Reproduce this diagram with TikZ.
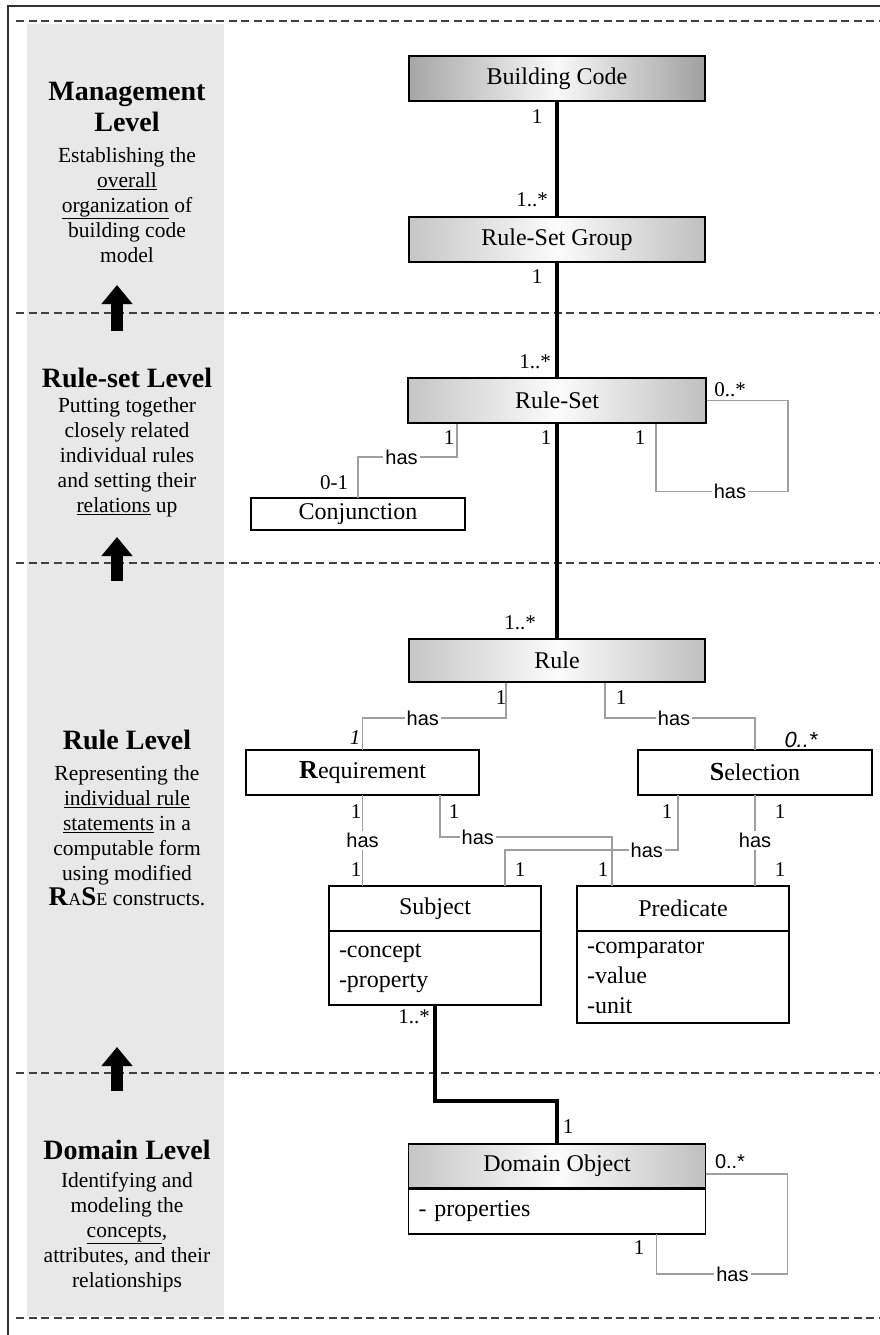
\documentclass[tikz,border=0pt]{standalone}
\usepackage{fontspec}
\setmainfont{Liberation Serif}
\setsansfont{Liberation Sans}
\usetikzlibrary{arrows.meta,positioning,calc}

\newcommand{\rasetext}{\textbf{\fontsize{27}{27}\selectfont R}{\fontsize{18}{18}\selectfont A}\textbf{\fontsize{27}{27}\selectfont S}{\fontsize{18}{18}\selectfont E}}

\begin{document}
\begin{tikzpicture}[x=1pt,y=-1pt,
  hdr/.style={draw,line width=1.8pt,minimum width=296pt,minimum height=45pt,inner sep=0pt,
              left color=gray!45,right color=gray!50,middle color=gray!3,
              font=\fontsize{24}{28}\selectfont},
  dhdr/.style={hdr,left color=gray!70,right color=gray!75,middle color=gray!5},
  cls/.style={draw,line width=1.8pt,fill=white,minimum height=45pt,inner sep=0pt,outer sep=0pt,
              font=\fontsize{24}{28}\selectfont},
  attr/.style={draw,line width=1.8pt,fill=white,inner xsep=10pt,inner ysep=0pt,outer sep=0pt,
               font=\fontsize{24}{30}\selectfont,align=left},
  mult/.style={font=\fontsize{21}{21}\selectfont,inner sep=1pt},
  has/.style={font=\sffamily\fontsize{20}{20}\selectfont,fill=white,inner sep=2pt},
  assoc/.style={line width=3.5pt},
  link/.style={line width=1.3pt,draw=gray!75},
  lvl/.style={font=\bfseries\fontsize{28}{31}\selectfont,align=center},
  desc/.style={font=\fontsize{21.5}{25}\selectfont,align=center},
  levelsep/.style={line width=2pt,draw=black!75,dash pattern=on 8pt off 4.5pt},
  uparr/.style={line width=12pt,-{Triangle[width=30pt,length=19pt]}}
]
\useasboundingbox (0,0) rectangle (879,1335);

% Frame and level band
\draw[line width=1.5pt,black!80] (8,1345) -- (8,6) -- (890,6);
\fill[gray!18] (27,24) rectangle (224,1316);

% Level separators
\draw[levelsep] (16,21) -- (879,21);
\draw[levelsep] (16,313) -- (879,313);
\draw[levelsep] (16,563) -- (879,563);
\draw[levelsep] (16,1073) -- (879,1073);
\draw[levelsep] (16,1318) -- (879,1318);

% Level arrows
\coordinate (a1s) at (117,331);
\coordinate (a1e) at (117,285);
\coordinate (a2s) at (117,581);
\coordinate (a2e) at (117,537);
\coordinate (a3s) at (117,1091);
\coordinate (a3e) at (117,1047);
\draw[uparr] (a1s) -- (a1e);
\draw[uparr] (a2s) -- (a2e);
\draw[uparr] (a3s) -- (a3e);

% Level texts
\node[lvl] (mgmt) at (127,107) {Management\\Level};
\node[desc] (mgmtd) at (127,205) {Establishing the\\\underline{overall}\\\underline{organization} of\\building code\\model};
\node[lvl] (rsl) at (127,378) {Rule-set Level};
\node[desc] (rsld) at (127,457) {Putting together\\closely related\\individual rules\\and setting their\\\underline{relations} up};
\node[lvl] (rl) at (127,740) {Rule Level};
\node[desc] (rld) at (127,836) {Representing the\\\underline{individual rule}\\\underline{statements} in a\\computable form\\using modified\\\rasetext{} constructs.};
\node[lvl] (dl) at (127,1150) {Domain Level};
\node[desc] (dld) at (127,1232) {Identifying and\\modeling the\\\underline{concepts},\\attributes, and their\\relationships};

% Classes
\node[dhdr] (bc) at (557,78.5) {Building Code};
\node[hdr] (rsg) at (557,239.5) {Rule-Set Group};
\node[hdr,minimum width=298pt] (rs) at (557,400.5) {Rule-Set};
\node[cls,minimum width=214pt,minimum height=32pt] (conj) at (358,514) {Conjunction};
\node[hdr,minimum height=43pt] (rule) at (557,660.5) {Rule};
\node[cls,minimum width=233pt] (req) at (362.5,772.5) {\textbf{\fontsize{26}{28}\selectfont R}equirement};
\node[cls,minimum width=234pt] (sel) at (755,772.5) {\textbf{\fontsize{26}{28}\selectfont S}election};
\node[cls,minimum width=212pt] (subj) at (435,908.5) {Subject};
\node[attr,text width=192pt,minimum height=74pt,below=0pt of subj] (subjb) {-concept\\-property};
\node[cls,minimum width=212pt] (pred) at (683,908.5) {Predicate};
\node[attr,text width=192pt,minimum height=92pt,below=0pt of pred] (predb) {-comparator\\-value\\-unit};
\node[hdr,minimum width=297pt,minimum height=44pt] (domh) at (557,1166) {Domain Object};
\node[attr,text width=277pt,minimum height=45pt,below=0pt of domh] (domb) {- properties};

% Aggregation spine
\draw[assoc] (bc) -- (rsg);
\draw[assoc] (rsg) -- (rs);
\draw[assoc] (rs) -- (rule);
\draw[assoc] (subjb.south) -- ++(0,96) -| (domh.north);

% has-links
\draw[link] ([xshift=50pt]rs.south west) -- ++(0,33) -| node[has,pos=0.28]{has} (conj.north);
\draw[link] (rs.east) -- ++(81,0) -- ++(0,91) -| node[has,pos=0.22]{has} ([xshift=249pt]rs.south west);
\draw[link] ([xshift=98pt]rule.south west) -- ++(0,35) -| node[has,pos=0.29]{has} (req.north);
\draw[link] ([xshift=197pt]rule.south west) -- ++(0,35) -| node[has,pos=0.23]{has} (sel.north);
\draw[link] (req.south) -- (req.south |- subj.north) node[has,midway]{has};
\draw[link] ([xshift=194pt]req.south west) -- ++(0,42) -| node[has,pos=0.11]{has} ([xshift=35pt]pred.north west);
\draw[link] ([xshift=40pt]sel.south west) -- ++(0,55) -| node[has,pos=0.09]{has} ([xshift=176pt]subj.north west);
\draw[link] (sel.south) -- (sel.south |- pred.north) node[has,midway]{has};
\draw[link] ([yshift=-8pt]domh.east) -- ++(81,0) -- ++(0,100) -| node[has,pos=0.21]{has} ([xshift=248pt]domb.south west);

% Multiplicities
\node[mult] (m1) at (537,117) {1};
\node[mult] (m2) at (532,200) {1..*};
\node[mult] (m3) at (537,277) {1};
\node[mult] (m4) at (535,362) {1..*};
\node[mult] (m5) at (730,390) {0..*};
\node[mult] (m6) at (449,438) {1};
\node[mult] (m7) at (546,438) {1};
\node[mult] (m8) at (640,438) {1};
\node[mult] (m9) at (334,483) {0-1};
\node[mult] (m10) at (520,623) {1..*};
\node[mult] (m11) at (501,698) {1};
\node[mult] (m12) at (621,698) {1};
\node[mult] (m13) at (355,738) {\textit{1}};
\node[mult,font=\sffamily\itshape\fontsize{22}{22}\selectfont] (m14) at (801,740) {0..*};
\node[mult] (m15) at (356,812) {1};
\node[mult] (m16) at (356,870) {1};
\node[mult] (m17) at (454,812) {1};
\node[mult] (m18) at (603,870) {1};
\node[mult] (m19) at (667,812) {1};
\node[mult] (m20) at (520,870) {1};
\node[mult] (m21) at (780,812) {1};
\node[mult] (m22) at (780,870) {1};
\node[mult] (m23) at (414,1017) {1..*};
\node[mult] (m24) at (568,1127) {1};
\node[mult,font=\sffamily\fontsize{20}{20}\selectfont] (m25) at (730,1162) {0..*};
\node[mult] (m26) at (639,1248) {1};

\end{tikzpicture}
\end{document}
